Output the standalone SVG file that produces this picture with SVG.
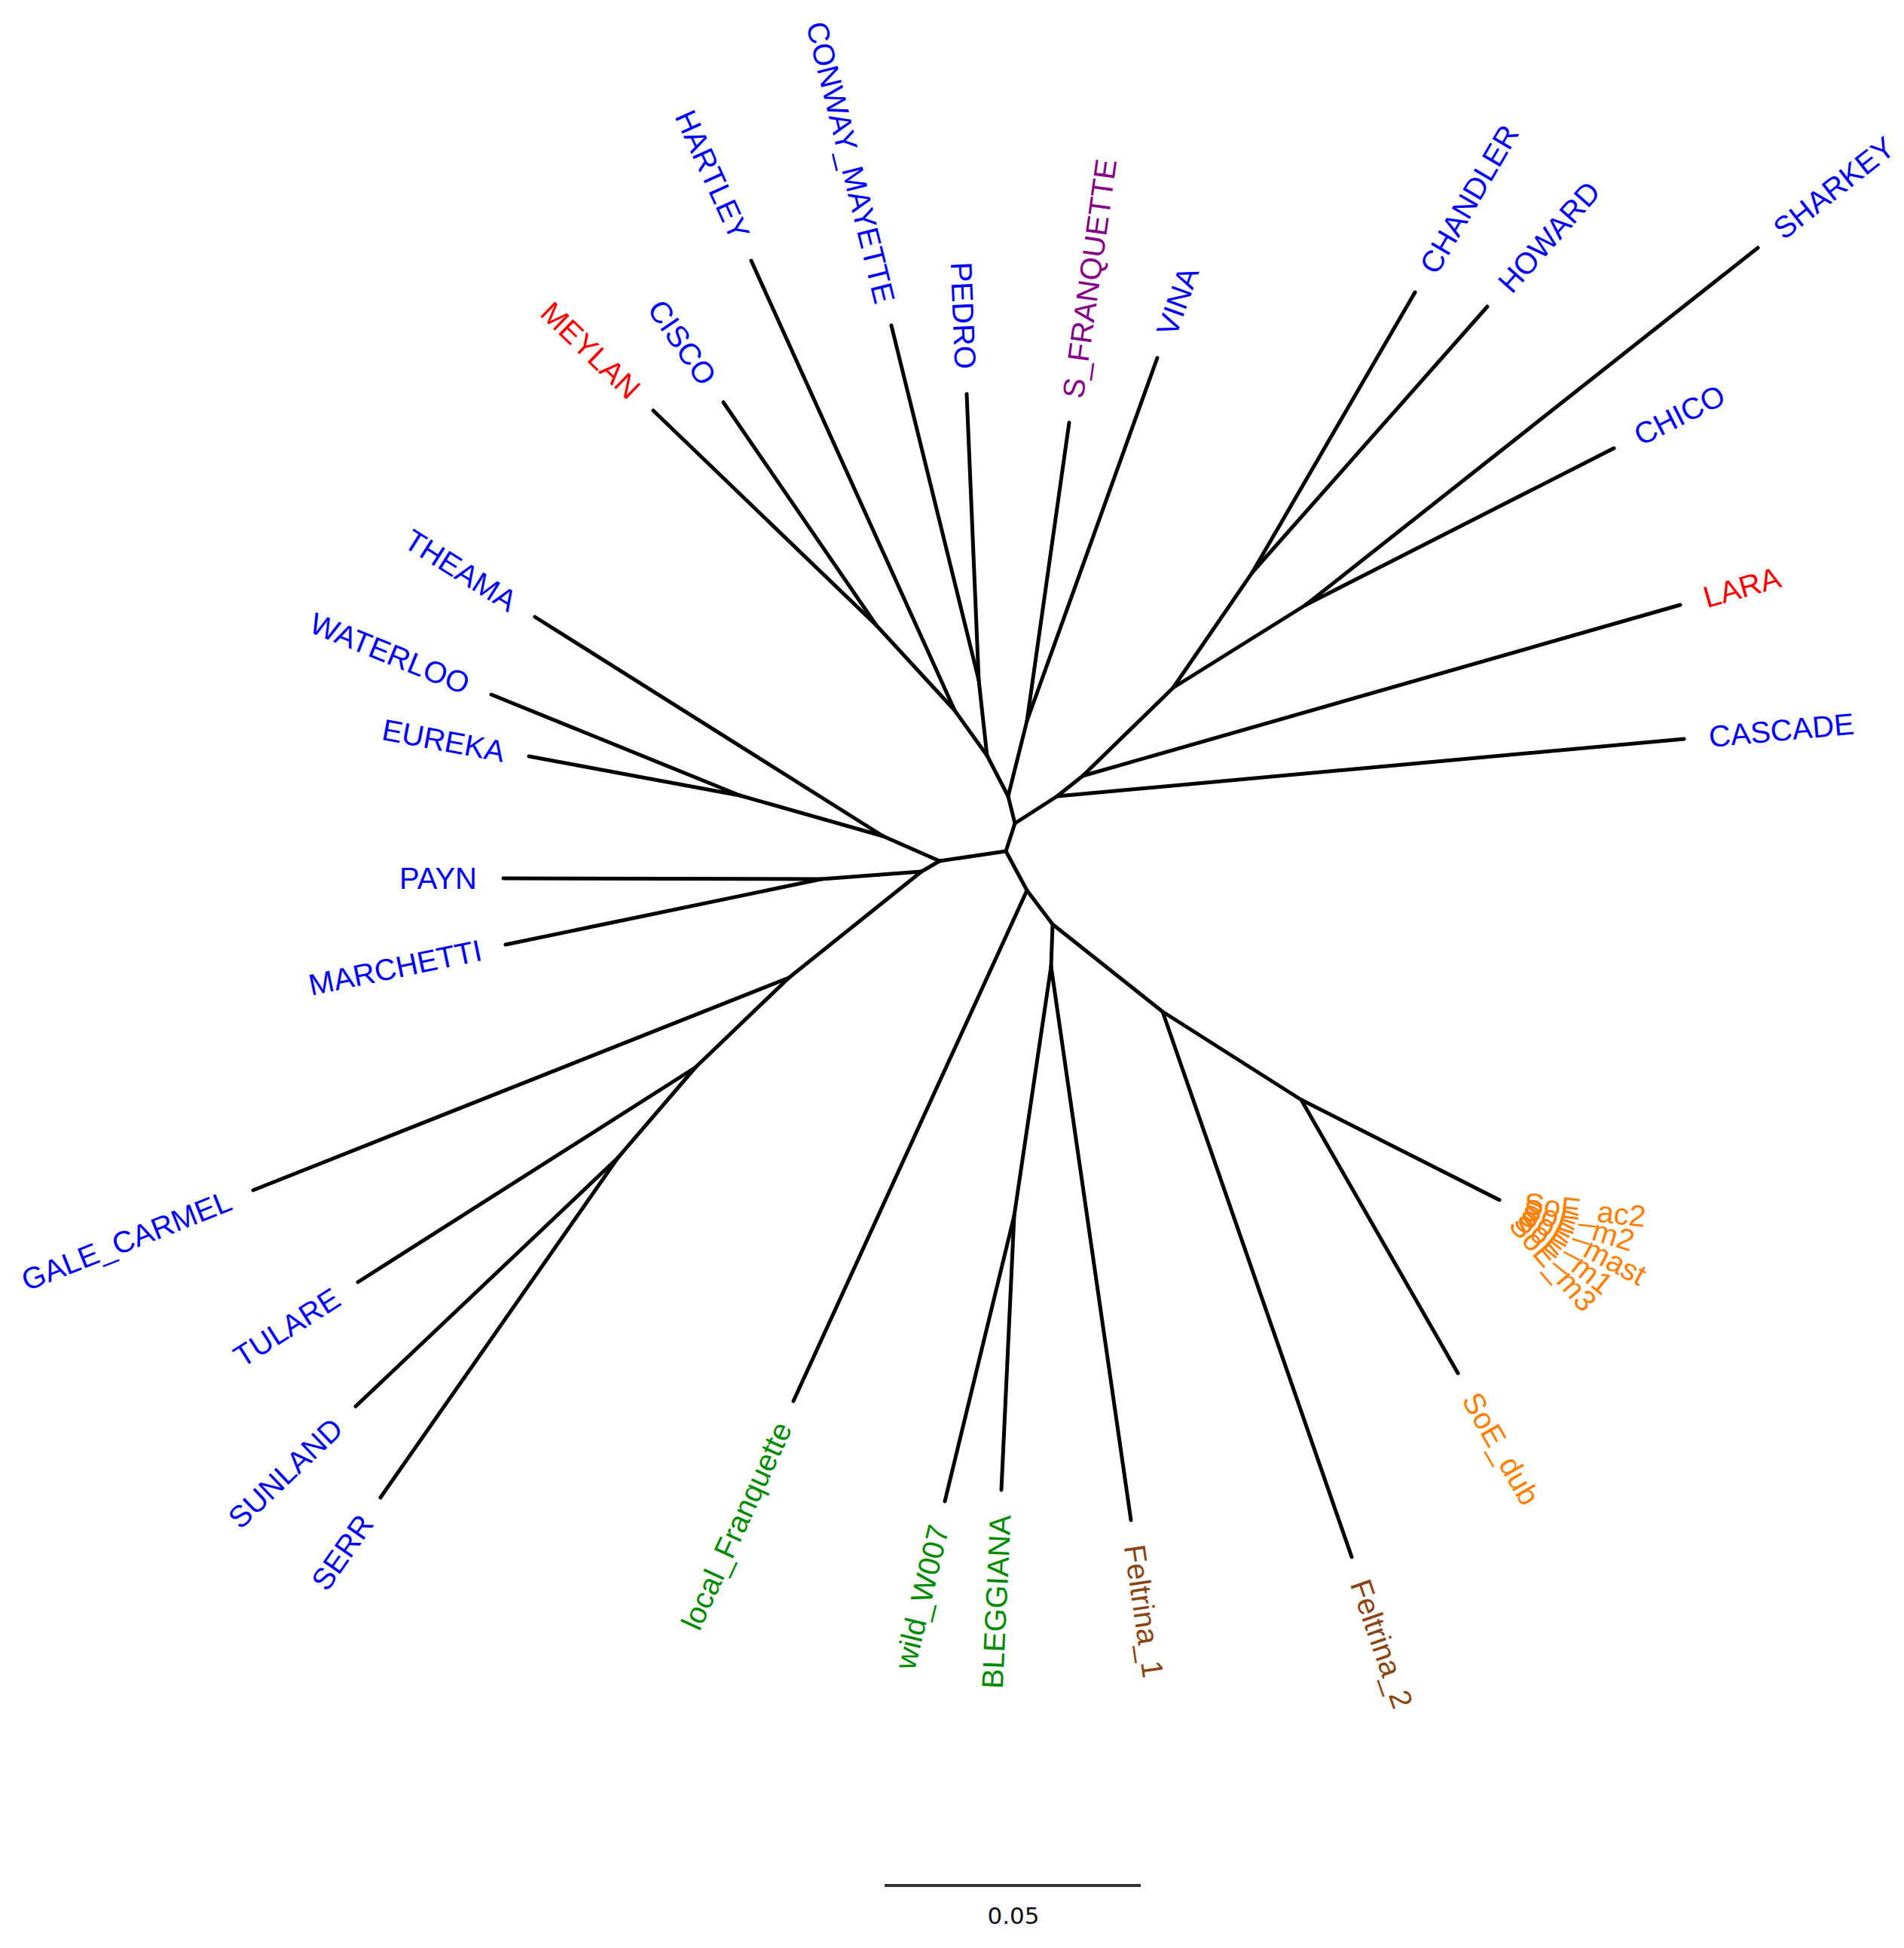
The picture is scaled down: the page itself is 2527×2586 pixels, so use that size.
<svg xmlns="http://www.w3.org/2000/svg" width="2527" height="2586" viewBox="0 0 2527 2586">
<style>
.bg{fill:#fff}
.e line{stroke:#000;stroke-width:5;stroke-linecap:round}
text{font-family:"Liberation Sans",Arial,Helvetica,sans-serif;font-size:40px}
.s{text-anchor:start}
.n{text-anchor:end}
.b{fill:#0000ff}
.r{fill:#ff0000}
.p{fill:#880088}
.g{fill:#008b00}
.br{fill:#8b4513}
.o{fill:#ff8000}
</style>
<rect class="bg" x="0" y="0" width="2527" height="2586"/>
<g id="edges" class="e">
<line x1="1335" y1="1130" x2="1347" y2="1093"/>
<line x1="1335" y1="1130" x2="1247" y2="1143"/>
<line x1="1335" y1="1130" x2="1363" y2="1182"/>
<line x1="1347" y1="1093" x2="1338" y2="1057"/>
<line x1="1347" y1="1093" x2="1403" y2="1057"/>
<line x1="1338" y1="1057" x2="1310" y2="1003"/>
<line x1="1338" y1="1057" x2="1363" y2="957"/>
<line x1="1310" y1="1003" x2="1267" y2="943"/>
<line x1="1310" y1="1003" x2="1299" y2="903"/>
<line x1="1267" y1="943" x2="1163" y2="830"/>
<line x1="1267" y1="943" x2="997" y2="346"/>
<line x1="1163" y1="830" x2="867" y2="545"/>
<line x1="1163" y1="830" x2="960" y2="534"/>
<line x1="1299" y1="903" x2="1183" y2="432"/>
<line x1="1299" y1="903" x2="1283" y2="523"/>
<line x1="1363" y1="957" x2="1419" y2="561"/>
<line x1="1363" y1="957" x2="1536" y2="475"/>
<line x1="1403" y1="1057" x2="2235" y2="981"/>
<line x1="1403" y1="1057" x2="1437" y2="1030"/>
<line x1="1437" y1="1030" x2="2230" y2="803"/>
<line x1="1437" y1="1030" x2="1557" y2="913"/>
<line x1="1557" y1="913" x2="1662" y2="760"/>
<line x1="1557" y1="913" x2="1733" y2="803"/>
<line x1="1662" y1="760" x2="1878" y2="388"/>
<line x1="1662" y1="760" x2="1974" y2="407"/>
<line x1="1733" y1="803" x2="2333" y2="329"/>
<line x1="1733" y1="803" x2="2142" y2="595"/>
<line x1="1247" y1="1143" x2="1172" y2="1110"/>
<line x1="1247" y1="1143" x2="1223" y2="1157"/>
<line x1="1172" y1="1110" x2="710" y2="819"/>
<line x1="1172" y1="1110" x2="982" y2="1056"/>
<line x1="982" y1="1056" x2="652" y2="922"/>
<line x1="982" y1="1056" x2="702" y2="1004"/>
<line x1="1223" y1="1157" x2="1090" y2="1167"/>
<line x1="1223" y1="1157" x2="1047" y2="1298"/>
<line x1="1090" y1="1167" x2="668" y2="1166"/>
<line x1="1090" y1="1167" x2="671" y2="1254"/>
<line x1="1047" y1="1298" x2="336" y2="1580"/>
<line x1="1047" y1="1298" x2="923" y2="1417"/>
<line x1="923" y1="1417" x2="475" y2="1702"/>
<line x1="923" y1="1417" x2="820" y2="1537"/>
<line x1="820" y1="1537" x2="472" y2="1867"/>
<line x1="820" y1="1537" x2="505" y2="1988"/>
<line x1="1363" y1="1182" x2="1053" y2="1860"/>
<line x1="1363" y1="1182" x2="1397" y2="1227"/>
<line x1="1397" y1="1227" x2="1395" y2="1283"/>
<line x1="1397" y1="1227" x2="1543" y2="1343"/>
<line x1="1395" y1="1283" x2="1346" y2="1614"/>
<line x1="1395" y1="1283" x2="1501" y2="2018"/>
<line x1="1346" y1="1614" x2="1254" y2="1993"/>
<line x1="1346" y1="1614" x2="1329" y2="1978"/>
<line x1="1543" y1="1343" x2="1794" y2="2067"/>
<line x1="1543" y1="1343" x2="1727" y2="1460"/>
<line x1="1727" y1="1460" x2="1990" y2="1593"/>
<line x1="1727" y1="1460" x2="1935" y2="1823"/>
</g>
<g id="MEYLAN"><text class="n r" dy="0.35em" transform="translate(843.2,522.1) rotate(43.93)">MEYLAN</text></g>
<g id="CISCO"><text class="n b" dy="0.35em" transform="translate(941.3,506.8) rotate(55.56)">CISCO</text></g>
<g id="HARTLEY"><text class="n b" dy="0.35em" transform="translate(983.4,315.9) rotate(65.66)">HARTLEY</text></g>
<g id="CONWAY_MAYETTE"><text class="n b" dy="0.35em" transform="translate(1175.1,402) rotate(76.16)">CONWAY_MAYETTE</text></g>
<g id="PEDRO"><text class="n b" dy="0.35em" transform="translate(1281.6,490) rotate(87.59)">PEDRO</text></g>
<g id="S_FRANQUETTE"><text class="s p" dy="0.35em" transform="translate(1423.6,528.3) rotate(-81.95)">S_FRANQUETTE</text></g>
<g id="VINA"><text class="s b" dy="0.35em" transform="translate(1547.1,443.9) rotate(-70.26)">VINA</text></g>
<g id="CHANDLER"><text class="s b" dy="0.35em" transform="translate(1894.6,359.5) rotate(-59.86)">CHANDLER</text></g>
<g id="HOWARD"><text class="s b" dy="0.35em" transform="translate(1995.9,382.3) rotate(-48.53)">HOWARD</text></g>
<g id="SHARKEY"><text class="s b" dy="0.35em" transform="translate(2358.9,308.5) rotate(-38.31)">SHARKEY</text></g>
<g id="CHICO"><text class="s b" dy="0.35em" transform="translate(2171.4,580) rotate(-26.95)">CHICO</text></g>
<g id="LARA"><text class="s r" dy="0.35em" transform="translate(2261.7,793.9) rotate(-15.97)">LARA</text></g>
<g id="CASCADE"><text class="s b" dy="0.35em" transform="translate(2267.9,978) rotate(-5.22)">CASCADE</text></g>
<g id="THEAMA"><text class="n b" dy="0.35em" transform="translate(682.1,801.4) rotate(32.21)">THEAMA</text></g>
<g id="WATERLOO"><text class="n b" dy="0.35em" transform="translate(621.4,909.6) rotate(22.1)">WATERLOO</text></g>
<g id="EUREKA"><text class="n b" dy="0.35em" transform="translate(669.6,998) rotate(10.52)">EUREKA</text></g>
<g id="PAYN"><text class="n b" dy="0.35em" transform="translate(633,1166)">PAYN</text></g>
<g id="MARCHETTI"><text class="n b" dy="0.35em" transform="translate(638.7,1260.7) rotate(-11.73)">MARCHETTI</text></g>
<g id="GALE_CARMEL"><text class="n b" dy="0.35em" transform="translate(305.3,1592.2) rotate(-21.63)">GALE_CARMEL</text></g>
<g id="TULARE"><text class="n b" dy="0.35em" transform="translate(447.2,1719.7) rotate(-32.46)">TULARE</text></g>
<g id="SUNLAND"><text class="n b" dy="0.35em" transform="translate(448.1,1889.7) rotate(-43.48)">SUNLAND</text></g>
<g id="SERR"><text class="n b" dy="0.35em" transform="translate(486.1,2015.1) rotate(-55.07)">SERR</text></g>
<g id="local_Franquette"><text class="n g" dy="0.35em" transform="translate(1039.3,1890) rotate(-65.43)">local_Franquette</text></g>
<g id="wild_W007"><text class="n g" dy="0.35em" transform="translate(1246.2,2025.1) rotate(-76.36)">wild_W007</text></g>
<g id="BLEGGIANA"><text class="n g" dy="0.35em" transform="translate(1327.5,2011) rotate(-87.33)">BLEGGIANA</text></g>
<g id="Feltrina_1"><text class="s br" dy="0.35em" transform="translate(1505.7,2050.7) rotate(81.79)">Feltrina_1</text></g>
<g id="Feltrina_2"><text class="s br" dy="0.35em" transform="translate(1804.8,2098.2) rotate(70.88)">Feltrina_2</text></g>
<g id="SoE_dub"><text class="s o" dy="0.35em" transform="translate(1951.4,1851.6) rotate(60.19)">SoE_dub</text></g>
<g id="SoE_cluster">
<text class="s o" x="33" dy="0.35em" transform="translate(1990,1593) rotate(6.5)">SoE_ac2</text>
<text class="s o" x="33" dy="0.35em" transform="translate(1990,1593) rotate(17.25)">SoE_m2</text>
<text class="s o" x="33" dy="0.35em" transform="translate(1990,1593) rotate(28)">SoE_mast</text>
<text class="s o" x="33" dy="0.35em" transform="translate(1990,1593) rotate(38.75)">SoE_m1</text>
<text class="s o" x="33" dy="0.35em" transform="translate(1990,1593) rotate(49.5)">SoE_m3</text>
</g>
<g id="scale_bar">
<line x1="1174" y1="2503" x2="1514" y2="2503" stroke="#333" stroke-width="4"/>
<text x="1345" y="2554" text-anchor="middle" style="font-family:'DejaVu Sans',sans-serif;font-size:31px" fill="#111">0.05</text>
</g>
</svg>
